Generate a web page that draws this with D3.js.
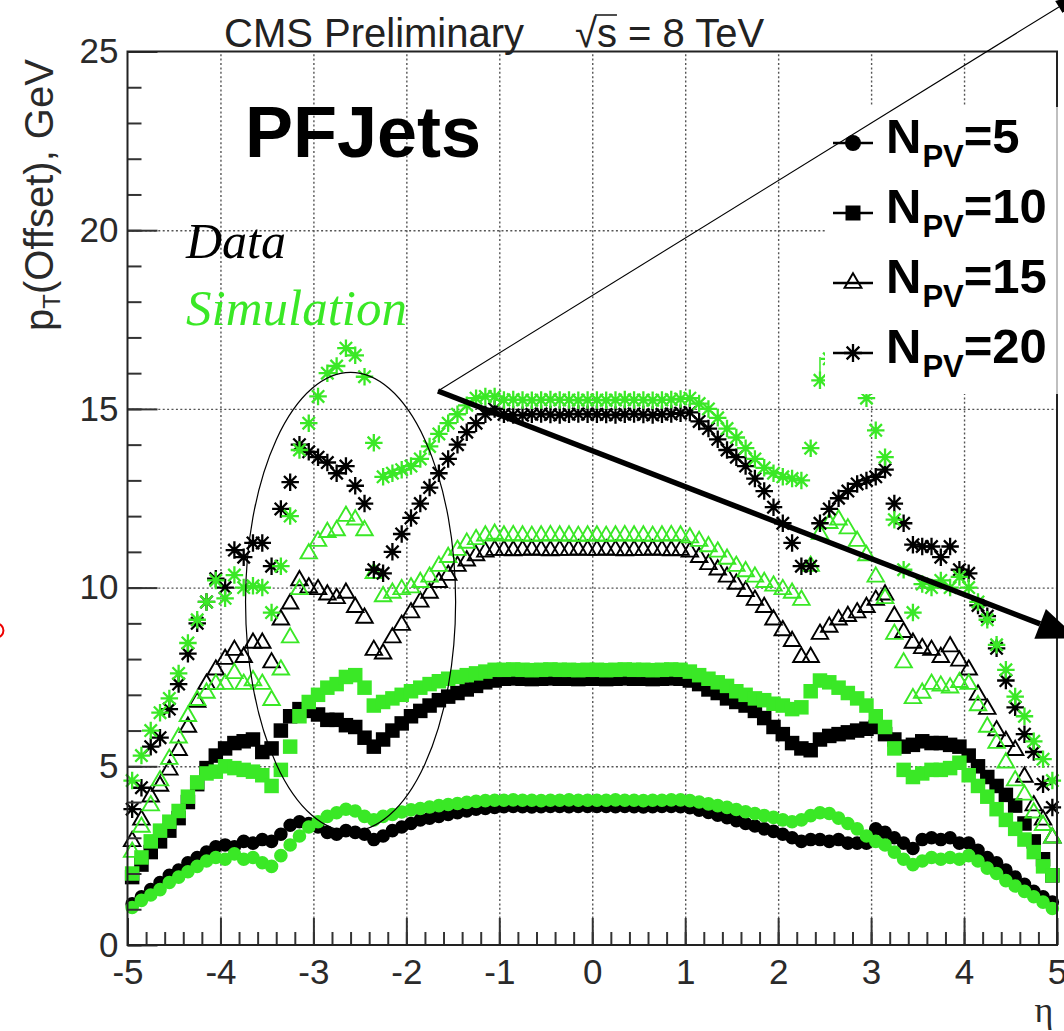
<!DOCTYPE html>
<html>
<head>
<meta charset="utf-8">
<title>PFJets offset vs eta</title>
<script src="https://cdn.jsdelivr.net/npm/d3@7/dist/d3.min.js"></script>
<style>
  html, body { margin: 0; padding: 0; background: #fff; }
  svg { display: block; }
</style>
</head>
<body>
<svg id="chart" width="1064" height="1031"></svg>
<script>
// η bin centres (bins 0.1 wide)
const etaBins = [
  -4.95,-4.85,-4.75,-4.65,-4.55,-4.45,-4.35,-4.25,-4.15,-4.05,
  -3.95,-3.85,-3.75,-3.65,-3.55,-3.45,-3.35,-3.25,-3.15,-3.05,
  -2.95,-2.85,-2.75,-2.65,-2.55,-2.45,-2.35,-2.25,-2.15,-2.05,
  -1.95,-1.85,-1.75,-1.65,-1.55,-1.45,-1.35,-1.25,-1.15,-1.05,
  -0.95,-0.85,-0.75,-0.65,-0.55,-0.45,-0.35,-0.25,-0.15,-0.05,
   0.05, 0.15, 0.25, 0.35, 0.45, 0.55, 0.65, 0.75, 0.85, 0.95,
   1.05, 1.15, 1.25, 1.35, 1.45, 1.55, 1.65, 1.75, 1.85, 1.95,
   2.05, 2.15, 2.25, 2.35, 2.45, 2.55, 2.65, 2.75, 2.85, 2.95,
   3.05, 3.15, 3.25, 3.35, 3.45, 3.55, 3.65, 3.75, 3.85, 3.95,
   4.05, 4.15, 4.25, 4.35, 4.45, 4.55, 4.65, 4.75, 4.85, 4.95
];

// Offset pT (GeV) per η bin — data
const dataNpv5 = [
  1.15,1.35,1.55,1.75,1.95,2.1,2.3,2.45,2.6,2.75,
  2.8,2.75,2.9,2.85,2.95,2.9,3.1,3.35,3.45,3.4,
  3.3,3.15,3.1,3.2,3.15,3.1,2.95,3.05,3.2,3.3,
  3.4,3.5,3.55,3.6,3.65,3.7,3.75,3.8,3.82,3.85,
  3.87,3.88,3.87,3.86,3.87,3.88,3.88,3.87,3.88,3.88,
  3.88,3.88,3.87,3.88,3.87,3.86,3.87,3.88,3.88,3.87,
  3.84,3.77,3.71,3.63,3.56,3.48,3.4,3.33,3.25,3.18,
  3.1,3.0,2.9,2.95,2.95,2.9,2.95,2.85,2.85,2.85,
  3.25,3.15,3.0,2.85,2.7,2.95,3.0,2.95,3.0,2.85,
  2.85,2.65,2.45,2.3,2.1,1.9,1.7,1.5,1.35,1.2
];
const dataNpv10 = [
  1.9,2.25,2.6,2.9,3.2,3.55,4.0,4.5,4.95,5.3,
  5.5,5.65,5.7,5.75,5.4,5.5,6.0,6.4,6.6,6.55,
  6.45,6.3,6.3,6.15,6.1,5.8,5.55,5.75,6.0,6.2,
  6.4,6.55,6.7,6.85,6.95,7.05,7.15,7.25,7.35,7.4,
  7.45,7.46,7.45,7.44,7.45,7.46,7.45,7.45,7.44,7.45,
  7.45,7.44,7.45,7.46,7.45,7.45,7.44,7.45,7.46,7.45,
  7.4,7.3,7.15,7.05,6.9,6.8,6.7,6.55,6.35,6.1,
  5.9,5.65,5.5,5.45,5.75,5.85,5.9,5.95,6.0,6.05,
  6.1,5.9,5.75,5.55,5.6,5.7,5.65,5.65,5.6,5.55,
  5.3,5.0,4.7,4.45,4.2,3.9,3.4,2.9,2.4,1.95
];
const dataNpv15 = [
  2.9,3.5,4.15,4.45,4.9,5.45,6.1,6.8,7.3,7.7,
  8.0,8.25,8.05,8.45,8.45,7.9,9.1,9.55,10.2,10.0,
  9.95,9.8,9.7,9.85,9.45,9.15,8.25,8.15,8.6,8.95,
  9.3,9.6,9.85,10.15,10.35,10.6,10.75,10.9,11.0,11.05,
  11.05,11.04,11.05,11.06,11.05,11.04,11.05,11.05,11.06,11.05,
  11.05,11.06,11.05,11.04,11.05,11.05,11.06,11.05,11.04,11.05,
  11.0,10.85,10.65,10.5,10.3,10.1,9.9,9.65,9.45,9.1,
  8.8,8.5,8.05,8.05,8.7,8.9,9.1,9.2,9.3,9.45,
  9.65,9.8,9.2,8.75,8.45,8.3,8.25,8.05,8.35,7.95,
  7.7,7.0,6.6,6.0,5.7,5.45,4.7,3.9,3.5,3.0
];
const dataNpv20 = [
  3.8,4.4,5.55,5.8,6.6,7.3,8.15,9.0,9.6,10.25,
  10.0,11.05,10.85,11.25,11.25,10.6,12.2,12.95,14.0,13.8,
  13.65,13.5,13.2,13.4,12.85,12.35,10.5,10.4,11.0,11.5,
  11.95,12.35,12.8,13.2,13.6,14.0,14.35,14.6,14.85,15.0,
  14.85,14.83,14.82,14.85,14.86,14.84,14.83,14.85,14.86,14.85,
  14.85,14.84,14.83,14.85,14.86,14.84,14.83,14.85,14.86,14.88,
  14.9,14.65,14.45,14.15,13.85,13.65,13.4,13.05,12.7,12.25,
  11.8,11.25,10.6,10.6,11.8,12.2,12.5,12.7,12.9,13.0,
  13.1,13.3,12.35,11.8,11.2,11.15,11.15,10.85,11.15,10.5,
  10.4,9.5,9.2,8.3,7.4,6.65,5.9,5.4,4.5,3.85
];

// Offset pT (GeV) per η bin — simulation
const simNpv5 = [
  1.05,1.25,1.4,1.55,1.75,1.9,2.05,2.2,2.35,2.45,
  2.4,2.55,2.4,2.45,2.3,2.2,2.5,2.8,3.05,3.3,
  3.45,3.6,3.7,3.8,3.75,3.6,3.5,3.6,3.65,3.72,
  3.78,3.82,3.86,3.9,3.93,3.96,3.99,4.02,4.04,4.05,
  4.05,4.06,4.05,4.05,4.04,4.05,4.05,4.06,4.05,4.05,
  4.05,4.05,4.06,4.05,4.05,4.04,4.05,4.05,4.06,4.06,
  4.04,4.0,3.95,3.9,3.85,3.79,3.73,3.68,3.62,3.57,
  3.5,3.45,3.5,3.62,3.7,3.68,3.55,3.4,3.25,3.05,
  2.9,2.8,2.6,2.4,2.25,2.35,2.45,2.4,2.45,2.4,
  2.5,2.35,2.15,2.0,1.8,1.65,1.5,1.35,1.2,1.02
];
const simNpv10 = [
  2.0,2.45,2.9,3.2,3.45,3.75,4.15,4.55,4.8,4.85,
  5.0,4.95,4.9,4.85,4.75,4.45,4.9,5.55,6.4,6.8,
  7.0,7.2,7.3,7.5,7.55,7.2,6.7,6.8,6.9,7.0,
  7.1,7.2,7.3,7.38,7.45,7.5,7.55,7.6,7.65,7.7,
  7.7,7.71,7.7,7.69,7.7,7.71,7.7,7.7,7.69,7.7,
  7.7,7.69,7.7,7.71,7.7,7.7,7.69,7.7,7.71,7.7,
  7.65,7.55,7.45,7.35,7.25,7.1,7.0,6.9,6.85,6.75,
  6.7,6.6,6.65,7.1,7.4,7.35,7.2,7.05,6.9,6.7,
  6.4,6.1,5.5,4.9,4.7,4.8,4.9,4.9,4.95,5.1,
  4.75,4.45,4.15,3.8,3.5,3.25,2.95,2.6,2.2,1.95
];
const simNpv15 = [
  2.6,3.3,3.9,4.6,5.2,5.8,6.4,6.85,7.05,7.3,
  7.3,7.6,7.3,7.4,7.3,6.85,7.7,8.6,9.95,10.95,
  11.3,11.55,11.6,12.0,11.9,11.6,10.4,9.75,9.85,9.95,
  10.0,10.15,10.3,10.6,10.85,11.05,11.25,11.35,11.45,11.5,
  11.45,11.46,11.45,11.44,11.45,11.46,11.45,11.45,11.44,11.45,
  11.45,11.44,11.45,11.46,11.45,11.45,11.44,11.45,11.46,11.45,
  11.4,11.3,11.15,11.0,10.8,10.6,10.45,10.3,10.15,10.05,
  9.95,9.85,9.65,10.6,11.5,11.8,11.9,11.65,11.3,10.9,
  10.3,9.7,8.7,7.9,6.9,7.05,7.3,7.25,7.2,7.35,
  7.3,6.7,6.1,5.65,5.1,4.6,4.2,3.7,3.35,3.0
];
const simNpv20 = [
  4.6,5.3,6.0,6.5,6.9,7.6,8.45,9.1,9.6,10.2,
  9.7,10.35,10.0,10.05,10.0,9.3,10.6,12.0,13.85,14.6,
  15.35,16.0,16.2,16.7,16.5,15.9,14.05,13.1,13.2,13.3,
  13.4,13.6,13.95,14.3,14.6,14.85,15.1,15.3,15.35,15.35,
  15.25,15.26,15.25,15.24,15.25,15.26,15.25,15.25,15.24,15.25,
  15.25,15.24,15.25,15.26,15.25,15.25,15.24,15.25,15.26,15.28,
  15.3,15.15,15.0,14.75,14.45,14.2,13.9,13.6,13.35,13.2,
  13.1,13.05,13.0,13.9,15.8,16.4,16.7,16.4,15.9,15.3,
  14.4,13.65,11.9,10.5,9.3,10.1,10.0,10.2,10.0,10.3,
  10.0,9.6,9.1,8.4,7.7,6.95,6.4,5.7,5.2,4.6
];
// visible vertical error bars on simulated N_PV=20 points
const simNpv20ErrEta = [2.45];
const simNpv20ErrUp = [0.65];

const npvLevels = ["5", "10", "15", "20"];
const xTickValues = [-5, -4, -3, -2, -1, 0, 1, 2, 3, 4, 5];
const yTickValues = [0, 5, 10, 15, 20, 25];

const BLACK = "#000";
const GREEN = "rgb(58,232,38)";
const SANS = "'Liberation Sans', Arial, Helvetica, sans-serif";
const SERIF = "'Liberation Serif', 'Times New Roman', serif";

const svg = d3.select("#chart");
const x = d3.scaleLinear().domain([-5, 5]).range([127.5, 1057]);
const y = d3.scaleLinear().domain([0, 25]).range([945, 51.5]);

// eight-arm asterisk marker
const symAsterisk = {
  draw(ctx, size) {
    const r = Math.sqrt(size) / 2, d = r * Math.SQRT1_2;
    ctx.moveTo(-r, 0); ctx.lineTo(r, 0);
    ctx.moveTo(0, -r); ctx.lineTo(0, r);
    ctx.moveTo(-d, -d); ctx.lineTo(d, d);
    ctx.moveTo(-d, d); ctx.lineTo(d, -d);
  }
};
const markerStyles = {
  "5":  { type: d3.symbolCircle,   size: Math.PI * 6.8 * 6.8, filled: true },
  "10": { type: d3.symbolSquare,   size: 14.5 * 14.5, filled: true },
  "15": { type: d3.symbolTriangle, size: 0.433 * 16.5 * 16.5, filled: false, width: 1.9 },
  "20": { type: symAsterisk,       size: 17.5 * 17.5, filled: false, width: 2.3 }
};

// ---- grid ----
const gridV = svg.append("g").attr("transform", `translate(0,${y(0)})`)
  .call(d3.axisBottom(x).tickValues(xTickValues.slice(1, -1)).tickSize(-(y(0) - y(25))).tickFormat(""));
const gridH = svg.append("g").attr("transform", `translate(${x(-5)},0)`)
  .call(d3.axisLeft(y).tickValues(yTickValues.slice(1, -1)).tickSize(-(x(5) - x(-5))).tickFormat(""));
[gridV, gridH].forEach(g => {
  g.select(".domain").remove();
  g.selectAll("line").attr("stroke", "#555").attr("stroke-width", 1.4).attr("stroke-dasharray", "2,2.4");
});

// ---- data points ----
const seriesList = [
  { npv: "5",  values: dataNpv5,  color: BLACK },
  { npv: "5",  values: simNpv5,   color: GREEN },
  { npv: "10", values: dataNpv10, color: BLACK },
  { npv: "10", values: simNpv10,  color: GREEN },
  { npv: "15", values: dataNpv15, color: BLACK },
  { npv: "15", values: simNpv15,  color: GREEN },
  { npv: "20", values: dataNpv20, color: BLACK },
  { npv: "20", values: simNpv20,  color: GREEN }
];
function styleMarker(sel, st, color) {
  if (st.filled) sel.attr("fill", color).attr("stroke", "none");
  else sel.attr("fill", "none").attr("stroke", color).attr("stroke-width", st.width);
}
seriesList.forEach(s => {
  const st = markerStyles[s.npv];
  const gen = d3.symbol().type(st.type).size(st.size);
  const pts = etaBins.map((eta, i) => ({ eta, v: s.values[i] }));
  svg.append("g").selectAll("path").data(pts).join("path")
    .attr("d", gen)
    .attr("transform", d => `translate(${x(d.eta)},${y(d.v)})`)
    .call(sel => styleMarker(sel, st, s.color));
});
// error bars
svg.append("g").selectAll("line")
  .data(simNpv20ErrEta.map((eta, i) => ({ eta, v: simNpv20[etaBins.indexOf(eta)], up: simNpv20ErrUp[i] })))
  .join("line")
  .attr("x1", d => x(d.eta)).attr("x2", d => x(d.eta))
  .attr("y1", d => y(d.v)).attr("y2", d => y(d.v + d.up))
  .attr("stroke", GREEN).attr("stroke-width", 1.5);

// ---- axes ----
function styleAxis(g, fontSize) {
  g.select(".domain").remove();
  g.selectAll("line").attr("stroke", "#333").attr("stroke-width", 2);
  g.selectAll("text").attr("fill", "#2a2a2a").attr("font-family", SANS).attr("font-size", fontSize);
}
const minorX = d3.range(-50, 51, 2).map(v => v / 10);
const minorY = d3.range(0, 26, 1);
svg.append("g").attr("transform", `translate(0,${y(0)})`)
  .call(d3.axisBottom(x).tickValues(minorX).tickSize(-13).tickFormat("")).call(g => styleAxis(g, 35));
svg.append("g").attr("transform", `translate(0,${y(0)})`)
  .call(d3.axisBottom(x).tickValues(xTickValues).tickSize(-27).tickPadding(14).tickFormat(d => String(d)))
  .call(g => styleAxis(g, 35));
svg.append("g").attr("transform", `translate(${x(-5)},0)`)
  .call(d3.axisLeft(y).tickValues(minorY).tickSize(-14).tickFormat("")).call(g => styleAxis(g, 35));
svg.append("g").attr("transform", `translate(${x(-5)},0)`)
  .call(d3.axisLeft(y).tickValues(yTickValues).tickSize(-30).tickPadding(9).tickFormat(d => String(d)))
  .call(g => styleAxis(g, 35));

// frame
svg.append("rect")
  .attr("x", x(-5)).attr("y", y(25)).attr("width", x(5) - x(-5)).attr("height", y(0) - y(25))
  .attr("fill", "none").attr("stroke", "#222").attr("stroke-width", 2);

// axis titles
const yTitle = svg.append("text")
  .attr("transform", `translate(53,195) rotate(-90)`)
  .attr("text-anchor", "middle").attr("font-family", SANS).attr("font-size", 40).attr("fill", "#2a2a2a");
yTitle.append("tspan").text("p");
yTitle.append("tspan").attr("font-size", 24).attr("dy", 7).text("T");
yTitle.append("tspan").attr("dy", -7).text("(Offset), GeV");

svg.append("text").attr("x", 1044).attr("y", 1022).attr("text-anchor", "middle")
  .attr("font-family", SERIF).attr("font-size", 36).attr("fill", "#2a2a2a").text("η");

// header
svg.append("text").attr("x", 224).attr("y", 47)
  .attr("font-family", SANS).attr("font-size", 40).attr("fill", "#222").text("CMS Preliminary");
const energy = svg.append("text").attr("x", 575).attr("y", 47)
  .attr("font-family", SANS).attr("font-size", 40).attr("fill", "#222");
energy.append("tspan").text("√");
energy.append("tspan").text("s = 8 TeV");
{
  const node = energy.node();
  const rootBox = node.getExtentOfChar(0);
  const sBox = node.getExtentOfChar(1);
  svg.append("line")
    .attr("x1", rootBox.x + rootBox.width - 2).attr("x2", sBox.x + sBox.width)
    .attr("y1", 15).attr("y2", 15).attr("stroke", "#222").attr("stroke-width", 1.6);
}

svg.append("text").attr("x", 245).attr("y", 157)
  .attr("font-family", SANS).attr("font-weight", "bold").attr("font-size", 72).attr("fill", "#000").text("PFJets");
svg.append("text").attr("x", 186).attr("y", 258)
  .attr("font-family", SERIF).attr("font-style", "italic").attr("font-size", 50).attr("fill", "#000").text("Data");
svg.append("text").attr("x", 186).attr("y", 325)
  .attr("font-family", SERIF).attr("font-style", "italic").attr("font-size", 51).attr("fill", GREEN).text("Simulation");

// ---- legend ----
svg.append("rect").attr("x", 825).attr("y", 107).attr("width", 240).attr("height", 287).attr("fill", "#fff");
svg.append("line").attr("x1", 1057).attr("x2", 1057).attr("y1", 107).attr("y2", 394)
  .attr("stroke", "#aaa").attr("stroke-width", 1.5);
const legendMarkerSize = { "5": Math.PI * 8 * 8, "10": 15 * 15, "15": 0.433 * 17 * 17, "20": 18 * 18 };
npvLevels.forEach((lvl, i) => {
  const base = 153 + i * 70;
  const my = base - 10;
  const st = markerStyles[lvl];
  svg.append("line").attr("x1", 833).attr("x2", 873).attr("y1", my).attr("y2", my)
    .attr("stroke", "#000").attr("stroke-width", 2.5);
  svg.append("path")
    .attr("d", d3.symbol().type(st.type).size(legendMarkerSize[lvl]))
    .attr("transform", `translate(853,${my})`)
    .call(sel => styleMarker(sel, st, "#000"));
  const t = svg.append("text").attr("x", 886).attr("y", base)
    .attr("font-family", SANS).attr("font-weight", "bold").attr("font-size", 49).attr("fill", "#000");
  t.append("tspan").text("N");
  t.append("tspan").attr("font-size", 31).attr("dy", 14).attr("dx", 1).text("PV");
  t.append("tspan").attr("dy", -14).text("=" + lvl);
});

// ---- annotations ----
const apex = { eta: -1.66, pt: 15.5 };
// thin pointer towards the upper corner
const thinTip = { eta: 5.24, pt: 26.6 };
function arrowHead(from, to, len, half) {
  const x0 = x(from.eta), y0 = y(from.pt), x1 = x(to.eta), y1 = y(to.pt);
  const L = Math.hypot(x1 - x0, y1 - y0), ux = (x1 - x0) / L, uy = (y1 - y0) / L;
  const bx = x1 - ux * len, by = y1 - uy * len;
  return { base: [bx, by], pts: [[x1, y1], [bx - uy * half, by + ux * half], [bx + uy * half, by - ux * half]] };
}
{
  const h = arrowHead(apex, thinTip, 24, 7);
  svg.append("line").attr("x1", x(apex.eta)).attr("y1", y(apex.pt))
    .attr("x2", h.base[0]).attr("y2", h.base[1]).attr("stroke", "#000").attr("stroke-width", 1.1);
  svg.append("polygon").attr("points", h.pts.map(p => p.join(",")).join(" ")).attr("fill", "#000");
}
// thick arrow
const thickTip = { eta: 5.22, pt: 8.58 };
{
  const h = arrowHead(apex, thickTip, 40, 16);
  svg.append("line").attr("x1", x(apex.eta)).attr("y1", y(apex.pt))
    .attr("x2", h.base[0]).attr("y2", h.base[1]).attr("stroke", "#000").attr("stroke-width", 5.5);
  svg.append("polygon").attr("points", h.pts.map(p => p.join(",")).join(" ")).attr("fill", "#000");
}
// ellipse around the forward region
const ring = { eta: -2.6, pt: 9.6, dEta: 1.13, dPt: 6.42 };
svg.append("ellipse")
  .attr("cx", x(ring.eta)).attr("cy", y(ring.pt))
  .attr("rx", x(ring.eta + ring.dEta) - x(ring.eta)).attr("ry", y(ring.pt - ring.dPt) - y(ring.pt))
  .attr("fill", "none").attr("stroke", "#000").attr("stroke-width", 1.2);
// small red mark at the left edge
const redMark = { eta: -6.41, pt: 8.8 };
svg.append("circle").attr("cx", x(redMark.eta)).attr("cy", y(redMark.pt)).attr("r", 7)
  .attr("fill", "none").attr("stroke", "#e00").attr("stroke-width", 2);
</script>
</body>
</html>
